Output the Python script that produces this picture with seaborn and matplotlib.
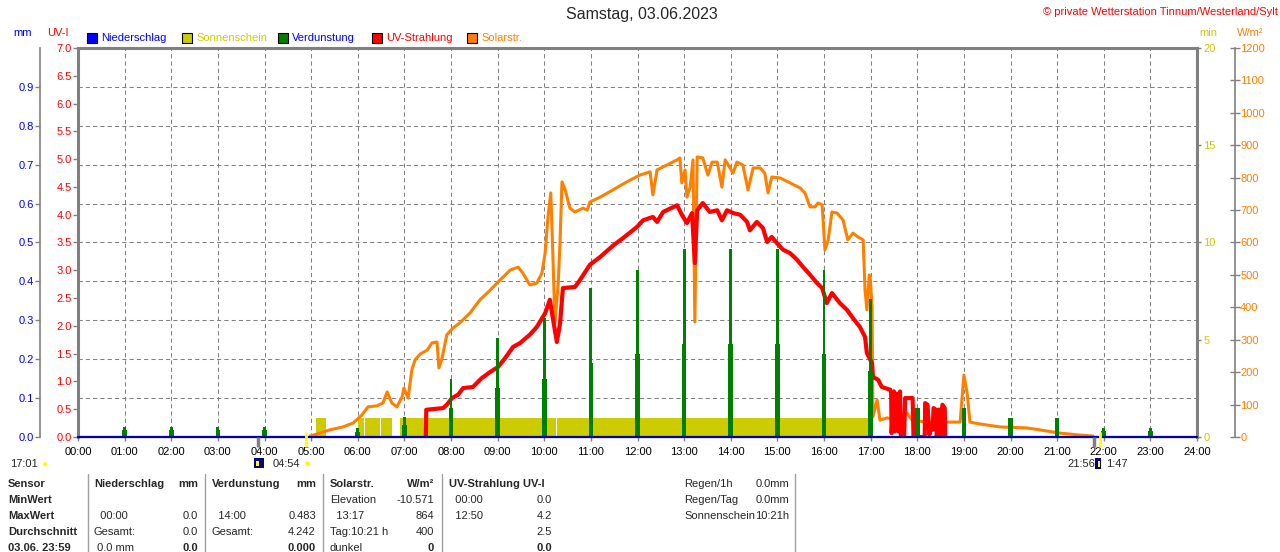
import numpy as np
import matplotlib
matplotlib.use("Agg")
import matplotlib.pyplot as plt
from matplotlib.patches import Rectangle
from matplotlib.lines import Line2D
import seaborn as sns

# ---- values (Samstag, 03.06.2023) ----
hours = list(range(25))
hour_labels = [f"{h:02d}:00" for h in hours]
mm_ticks = [0.0, 0.1, 0.2, 0.3, 0.4, 0.5, 0.6, 0.7, 0.8, 0.9]
uv_ticks = [0.0, 0.5, 1.0, 1.5, 2.0, 2.5, 3.0, 3.5, 4.0, 4.5, 5.0, 5.5, 6.0, 6.5, 7.0]
min_ticks = [0, 5, 10, 15, 20]
wm2_ticks = [0, 100, 200, 300, 400, 500, 600, 700, 800, 900, 1000, 1100, 1200]

# Niederschlag (mm) - dry day
rain_h = [0.0, 24.0]
rain_mm = [0.0, 0.0]

# Verdunstung (mm) per hour: thin spike and thicker lower part
evap_h = list(range(1, 24))
evap_peak = [0.026, 0.026, 0.026, 0.026, 0.0, 0.023, 0.051, 0.15, 0.255, 0.306, 0.383, 0.43,
             0.483, 0.483, 0.483, 0.43, 0.355, 0.075, 0.075, 0.05, 0.05, 0.023, 0.023]
evap_low = [0.018, 0.018, 0.018, 0.018, 0.0, 0.012, 0.03, 0.075, 0.126, 0.15, 0.19, 0.213,
            0.24, 0.24, 0.24, 0.213, 0.17, 0.075, 0.075, 0.05, 0.05, 0.015, 0.015]

# Sonnenschein (min per minute), sunny intervals
sun_start = [5.11, 6.00, 6.16, 6.50, 6.91, 10.27]
sun_end = [5.32, 6.13, 6.48, 6.73, 10.25, 17.01]
sun_min = [1, 1, 1, 1, 1, 1]

# UV-Strahlung (UV-I)
uv_h = [7.46, 7.47, 7.83, 7.91, 8.02, 8.15, 8.26, 8.47, 8.66, 8.84, 9.01, 9.16, 9.33, 9.48,
        9.69, 9.84, 10.02, 10.12, 10.19, 10.27, 10.34, 10.40, 10.66, 10.77, 10.98, 11.20,
        11.47, 11.69, 11.99, 12.12, 12.33, 12.42, 12.55, 12.85, 12.95, 13.06, 13.17, 13.23,
        13.28, 13.40, 13.55, 13.71, 13.81, 13.92, 14.05, 14.20, 14.35, 14.41, 14.56, 14.69,
        14.78, 14.88, 14.99, 15.12, 15.27, 15.42, 15.55, 15.70, 15.85, 15.96, 16.06, 16.17,
        16.34, 16.49, 16.62, 16.77, 16.88, 16.92, 17.03, 17.05, 17.16, 17.24, 17.42,
        17.44, 17.45, 17.50, 17.52, 17.55, 17.57, 17.60, 17.63, 17.65, 17.68, 17.72, 17.74,
        17.90, 17.92, 18.16, 18.17, 18.22, 18.26, 18.28, 18.33, 18.35, 18.40, 18.42, 18.44,
        18.50, 18.52, 18.54, 18.59, 18.60]
uv_i = [0.0, 0.49, 0.52, 0.58, 0.70, 0.76, 0.88, 0.90, 1.06, 1.17, 1.26, 1.42, 1.62, 1.69,
        1.84, 1.98, 2.23, 2.47, 2.11, 1.71, 2.05, 2.68, 2.70, 2.83, 3.10, 3.24,
        3.44, 3.58, 3.78, 3.90, 3.96, 3.87, 4.05, 4.17, 4.00, 3.85, 4.03, 3.13,
        4.08, 4.21, 4.05, 4.08, 3.90, 4.08, 4.03, 4.00, 3.87, 3.72, 3.87, 3.76,
        3.51, 3.60, 3.49, 3.37, 3.31, 3.19, 3.06, 2.92, 2.77, 2.68, 2.41, 2.59,
        2.41, 2.29, 2.14, 1.98, 1.80, 1.51, 1.33, 1.08, 1.03, 0.90, 0.85,
        0.80, 0.07, 0.82, 0.10, 0.78, 0.58, 0.10, 0.82, 0.0, 0.16, 0.04, 0.70,
        0.70, 0.0, 0.0, 0.61, 0.58, 0.04, 0.16, 0.13, 0.52, 0.49, 0.0, 0.49,
        0.49, 0.0, 0.58, 0.52, 0.0]

# Solarstrahlung (W/m²)
solar_h = [4.98, 5.19, 5.40, 5.68, 5.90, 6.09, 6.22, 6.41, 6.54, 6.63, 6.73, 6.84, 6.95, 6.99,
           7.08, 7.16, 7.23, 7.34, 7.49, 7.59, 7.70, 7.74, 7.81, 7.91, 8.04, 8.19, 8.41, 8.62,
           8.84, 9.05, 9.27, 9.44, 9.54, 9.69, 9.84, 9.95, 10.02, 10.08, 10.14, 10.17, 10.23,
           10.30, 10.34, 10.38, 10.45, 10.55, 10.66, 10.83, 10.92, 10.98, 11.20, 11.47, 11.77,
           12.05, 12.27, 12.33, 12.42, 12.63, 12.85, 12.91, 12.95, 13.02, 13.06, 13.13, 13.19,
           13.23, 13.28, 13.40, 13.51, 13.60, 13.71, 13.81, 13.88, 14.05, 14.13, 14.26, 14.37,
           14.48, 14.63, 14.73, 14.80, 14.88, 15.06, 15.27, 15.49, 15.59, 15.70, 15.81, 15.87,
           15.96, 16.02, 16.09, 16.17, 16.28, 16.41, 16.51, 16.62, 16.73, 16.84, 16.88, 16.92,
           16.97, 16.99, 17.03, 17.05, 17.14, 17.20, 17.35, 17.57, 17.78, 17.89, 18.21, 18.70,
           18.92, 19.00, 19.07, 19.13, 19.35, 19.78, 20.35, 20.63, 21.06, 21.49, 21.77]
solar_w = [3, 12, 22, 31, 43, 68, 93, 96, 105, 139, 105, 93, 123, 151,
           120, 207, 238, 256, 268, 290, 293, 213, 244, 315, 336, 352, 383, 423,
           453, 484, 515, 524, 506, 469, 475, 506, 568, 679, 753, 629, 352,
           475, 608, 787, 762, 706, 694, 706, 700, 725, 740, 762, 787,
           808, 818, 747, 824, 839, 855, 861, 784, 824, 740, 771, 855,
           355, 864, 861, 808, 848, 848, 771, 855, 814, 848, 839, 762,
           830, 830, 814, 753, 802, 799, 784, 768, 753, 710, 710, 722,
           716, 577, 608, 694, 691, 669, 608, 629, 617, 608, 453, 392,
           500, 494, 401, 62, 114, 52, 59, 52, 74, 52, 46, 46,
           46, 191, 136, 46, 40, 31, 28, 22, 12, 6, 3]

# twilight / sunrise-sunset marks on the time axis
twilight_h = [3.86, 21.79]
sunevent_h = [4.90, 21.93]

# summary table
table_rows = ["Sensor", "MinWert", "MaxWert", "Durchschnitt", "03.06. 23:59"]
table_cols = [
    [("Niederschlag", "mm"), ("", ""), ("  00:00", "0.0"), ("Gesamt:", "0.0"), (" 0.0 mm", "0.0")],
    [("Verdunstung", "mm"), ("", ""), ("  14:00", "0.483"), ("Gesamt:", "4.242"), ("", "0.000")],
    [("Solarstr.", "W/m²"), ("Elevation", "-10.571"), ("  13:17", "864"), ("Tag:10:21 h", "400"), ("dunkel", "0")],
    [("UV-Strahlung UV-I", ""), ("  00:00", "0.0"), ("  12:50", "4.2"), ("", "2.5"), ("", "0.0")],
]
extra_info = [("Regen/1h", "0.0mm"), ("Regen/Tag", "0.0mm"), ("Sonnenschein", "10:21h")]

# ---- style ----
sns.set_theme(style="ticks")
plt.rcParams['font.family'] = ['Liberation Sans', 'DejaVu Sans']
plt.rcParams['font.size'] = 8

GREY = '#808080'
C_RAIN = '#0000ff'
C_RAIN_LINE = '#0000b4'
C_SUN = '#cccc00'
C_EVAP = '#008000'
C_UV = '#ff0000'
C_SOL = '#ff8000'

W, H = 1280, 552
PX = 72 / 100  # points per pixel at dpi 100


def fx(px):
    return px / W


def fy(py):
    return 1 - py / H


fig = plt.figure(figsize=(W / 100, H / 100), dpi=100)
fig.patch.set_facecolor('white')

# base axes: mm scale + grid + time axis
ax = fig.add_axes([fx(78), fy(437), (1197 - 78) / W, (437 - 48) / H])
ax.set_xlim(0, 24)
ax.set_ylim(0, 1.0)
ax.set_xticks(hours)
ax.set_xticklabels(hour_labels)
ax.set_yticks(mm_ticks)
ax.set_yticklabels([f"{v:.1f}" for v in mm_ticks])
ax.grid(True, color=GREY, linestyle=(0, (4, 3)), linewidth=0.75)
ax.tick_params(axis='x', bottom=True, colors=GREY, labelcolor='black', length=3, width=1,
               pad=4, labelsize=8)
ax.tick_params(axis='y', left=True, colors=GREY, labelcolor=C_RAIN, length=3.5, width=1,
               pad=1, labelsize=8)
ax.spines['left'].set_position(('outward', 38 * PX))
ax.spines['left'].set_color(GREY)
ax.spines['left'].set_linewidth(1.2)
ax.spines['bottom'].set_color(GREY)
ax.spines['bottom'].set_linewidth(1.5)
ax.spines['top'].set_visible(False)
ax.spines['right'].set_visible(False)

# Sonnenschein (min)
ax_min = ax.twinx()
ax_min.bar(sun_start, sun_min, width=[e - s for s, e in zip(sun_start, sun_end)],
           align='edge', color=C_SUN, linewidth=0)
ax_min.set_ylim(0, 20)
ax_min.set_yticks(min_ticks)
ax_min.tick_params(axis='y', right=True, left=False, labelright=True, labelleft=False,
                   colors=GREY, labelcolor=C_SUN, length=3, width=1, pad=1.5, labelsize=8)
for s in ['left', 'top', 'bottom']:
    ax_min.spines[s].set_visible(False)
ax_min.spines['right'].set_color(GREY)
ax_min.spines['right'].set_linewidth(2.2)

# Solarstrahlung (W/m²)
ax_sol = ax.twinx()
sns.lineplot(x=solar_h, y=solar_w, ax=ax_sol, color=C_SOL, linewidth=2.2,
             sort=False, estimator=None)
ax_sol.set_ylim(0, 1200)
ax_sol.set_yticks(wm2_ticks)
ax_sol.set_ylabel('')
ax_sol.tick_params(axis='y', right=True, left=False, labelright=True, labelleft=False,
                   direction='inout', colors=GREY, labelcolor=C_SOL, length=6.5, width=1,
                   pad=0.5, labelsize=8)
for s in ['left', 'top', 'bottom']:
    ax_sol.spines[s].set_visible(False)
ax_sol.spines['right'].set_position(('outward', 38 * PX))
ax_sol.spines['right'].set_color(GREY)
ax_sol.spines['right'].set_linewidth(1.2)

# UV-Strahlung (UV-I)
ax_uv = ax.twinx()
sns.lineplot(x=uv_h, y=uv_i, ax=ax_uv, color=C_UV, linewidth=3,
             sort=False, estimator=None)
ax_uv.set_ylim(0, 7)
ax_uv.yaxis.tick_left()
ax_uv.set_yticks(uv_ticks)
ax_uv.set_yticklabels([f"{v:.1f}" for v in uv_ticks])
ax_uv.set_ylabel('')
ax_uv.tick_params(axis='y', left=True, right=False, labelleft=True, labelright=False,
                  colors=GREY, labelcolor=C_UV, length=3.5, width=1, pad=1, labelsize=8)
for s in ['right', 'bottom']:
    ax_uv.spines[s].set_visible(False)
for s in ['left', 'top']:
    ax_uv.spines[s].set_color(GREY)
    ax_uv.spines[s].set_linewidth(2.2)

# Verdunstung + Niederschlag (mm), drawn on top
ax_ev = ax.twinx()
ax_ev.bar(evap_h, evap_low, width=0.1, color=C_EVAP, linewidth=0)
ax_ev.bar(evap_h, evap_peak, width=0.06, color=C_EVAP, linewidth=0)
sns.lineplot(x=rain_h, y=rain_mm, ax=ax_ev, color=C_RAIN_LINE, linewidth=1.6,
             sort=False, estimator=None, clip_on=False)
ax_ev.vlines(twilight_h, -0.026, 0.0, colors=GREY, linewidth=2.5, clip_on=False)
ax_ev.vlines(sunevent_h, -0.026, 0.012, colors='#ffff00', linewidth=2, clip_on=False)
ax_ev.set_ylim(0, 1.0)
ax_ev.set_yticks([])
ax_ev.set_ylabel('')
ax_ev.tick_params(axis='y', right=False, labelright=False)
for s in ax_ev.spines.values():
    s.set_visible(False)
ax.set_xlim(0, 24)

# titles and unit labels
fig.text(fx(642), fy(15), "Samstag, 03.06.2023", ha='center', va='center', fontsize=11.5)
fig.text(fx(1278), fy(12), "© private Wetterstation Tinnum/Westerland/Sylt", color=C_UV,
         ha='right', va='center', fontsize=8)
fig.text(fx(13), fy(33), "mm", color=C_RAIN, ha='left', va='center', fontsize=8)
fig.text(fx(47), fy(33), "UV-I", color=C_UV, ha='left', va='center', fontsize=8)
fig.text(fx(1199), fy(33), "min", color=C_SUN, ha='left', va='center', fontsize=8)
fig.text(fx(1237), fy(33), "W/m²", color=C_SOL, ha='left', va='center', fontsize=8)

# legend row
legend_items = [("Niederschlag", C_RAIN, C_RAIN), ("Sonnenschein", C_SUN, C_SUN),
                ("Verdunstung", C_EVAP, C_RAIN), ("UV-Strahlung", C_UV, C_UV),
                ("Solarstr.", C_SOL, C_SOL)]
for (label, box_c, text_c), x0 in zip(legend_items, [87, 182, 278, 372, 467]):
    fig.add_artist(Rectangle((fx(x0), fy(43)), 10 / W, 10 / H, transform=fig.transFigure,
                             facecolor=box_c, edgecolor='black', linewidth=0.8))
    fig.text(fx(x0 + 14), fy(38), label, color=text_c, ha='left', va='center', fontsize=8)

# sun times below the axis
fig.text(fx(10), fy(464), "17:01", ha='left', va='center', fontsize=8)
fig.text(fx(44), fy(464), "●", color='#ffff00', ha='center', va='center', fontsize=7)
fig.add_artist(Rectangle((fx(254), fy(468)), 10 / W, 10 / H, transform=fig.transFigure,
                         facecolor='#000080', edgecolor='none'))
fig.add_artist(Rectangle((fx(256), fy(466)), 3 / W, 5 / H, transform=fig.transFigure,
                         facecolor='#ffff00', edgecolor='none'))
fig.text(fx(273), fy(464), "04:54", ha='left', va='center', fontsize=8)
fig.text(fx(306), fy(464), "●", color='#ffff00', ha='center', va='center', fontsize=8)
fig.text(fx(1095), fy(464), "21:56", ha='right', va='center', fontsize=8)
fig.add_artist(Rectangle((fx(1095), fy(469)), 6 / W, 11 / H, transform=fig.transFigure,
                         facecolor='#000080', edgecolor='none'))
fig.add_artist(Rectangle((fx(1098), fy(467)), 2 / W, 6 / H, transform=fig.transFigure,
                         facecolor='#ffff00', edgecolor='none'))
fig.text(fx(1106), fy(464), "1:47", ha='left', va='center', fontsize=8)

# summary table
row_y = [484, 500, 516, 532, 548]
for sep in [88, 205, 323, 442, 795]:
    fig.add_artist(Line2D([fx(sep), fx(sep)], [fy(474), 0], color='#a0a0a0', linewidth=1,
                          transform=fig.transFigure))
for label, y in zip(table_rows, row_y):
    fig.text(fx(8), fy(y), label, ha='left', va='center', fontsize=8, fontweight='bold')
for col, (xl, xr) in zip(table_cols, [(94, 198), (212, 316), (330, 434), (449, 552)]):
    for i, ((left, right), y) in enumerate(zip(col, row_y)):
        head = i == 0
        fig.text(fx(xl), fy(y), left, ha='left', va='center', fontsize=8,
                 fontweight='bold' if head else 'normal')
        fig.text(fx(xr), fy(y), right, ha='right', va='center', fontsize=8,
                 fontweight='bold' if head or i == len(col) - 1 else 'normal')
for (left, right), y in zip(extra_info, row_y):
    fig.text(fx(684), fy(y), left, ha='left', va='center', fontsize=8)
    fig.text(fx(789), fy(y), right, ha='right', va='center', fontsize=8)

fig.savefig('out.png', dpi=100, facecolor='white')
